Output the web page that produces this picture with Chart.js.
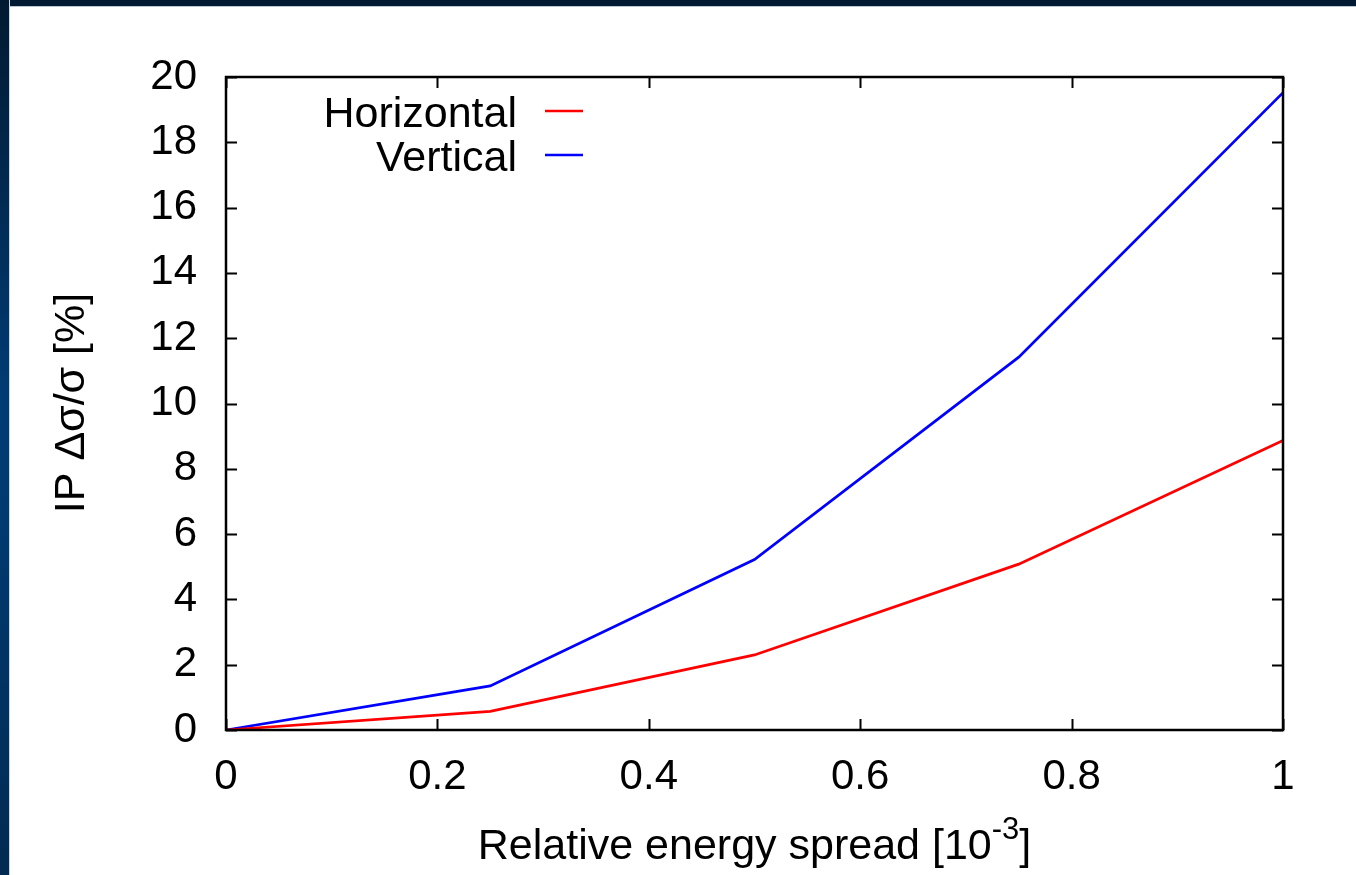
<!DOCTYPE html>
<html>
<head>
<meta charset="utf-8">
<script src="https://cdn.jsdelivr.net/npm/chart.js@4/dist/chart.umd.min.js"></script>
<style>
  html, body { margin: 0; padding: 0; background: #fff; overflow: hidden; }
  .topband { position: absolute; left: 0; top: 0; width: 1356px; height: 6px; background: #021a31; border-bottom: 1px solid #b8c6d6; }
  .leftband { position: absolute; left: 0; top: 0; width: 9px; height: 875px;
    background: linear-gradient(to bottom, #021a31 0%, #02284f 20%, #003c74 45%, #003a70 60%, #022a52 100%);
    border-right: 1px solid #c4d6ea; }
  #wrap { position: absolute; left: 0; top: 0; width: 1356px; height: 875px; }
</style>
</head>
<body>
<div class="topband"></div>
<div class="leftband"></div>
<div id="wrap"><canvas id="myChart" width="1356" height="875"></canvas></div>
<script>
// données
const spread = [0, 0.25, 0.5, 0.75, 1];
const horizontal = [0, 0.57, 2.3, 5.08, 8.87];
const vertical = [0, 1.35, 5.22, 11.42, 19.52];
const xTicks = [0, 0.2, 0.4, 0.6, 0.8, 1];
const yTicks = [0, 2, 4, 6, 8, 10, 12, 14, 16, 18, 20];

const FONT = '"Liberation Sans", Arial, sans-serif';

function pts(ys) {
  return spread.map(function (x, i) { return { x: x, y: ys[i] }; });
}

// cadre + petites graduations vers l'intérieur (style gnuplot)
const boxPlugin = {
  id: 'box',
  afterDatasetsDraw(chart) {
    const ctx = chart.ctx;
    const a = chart.chartArea;
    const xs = chart.scales.x, ys = chart.scales.y;
    const tl = 11;
    ctx.save();
    ctx.strokeStyle = '#000';
    ctx.lineWidth = 2;
    ctx.beginPath();
    xTicks.forEach(function (v) {
      const px = Math.round(xs.getPixelForValue(v)) + 0.5;
      ctx.moveTo(px, a.bottom); ctx.lineTo(px, a.bottom - tl);
      ctx.moveTo(px, a.top); ctx.lineTo(px, a.top + tl);
    });
    yTicks.forEach(function (v) {
      const py = Math.round(ys.getPixelForValue(v)) + 0.5;
      ctx.moveTo(a.left, py); ctx.lineTo(a.left + tl, py);
      ctx.moveTo(a.right, py); ctx.lineTo(a.right - tl, py);
    });
    ctx.stroke();
    ctx.lineWidth = 2.5;
    ctx.strokeRect(a.left, a.top, a.right - a.left, a.bottom - a.top);
    ctx.restore();
  }
};

// légende façon gnuplot : texte aligné à droite puis le trait
const keyPlugin = {
  id: 'key',
  afterDraw(chart) {
    const ctx = chart.ctx;
    ctx.save();
    ctx.font = '43px ' + FONT;
    ctx.fillStyle = '#000';
    ctx.textAlign = 'right';
    ctx.textBaseline = 'alphabetic';
    chart.data.datasets.forEach(function (ds, i) {
      const base = 127 + i * 44;
      ctx.fillText(ds.label, 517, base);
      ctx.strokeStyle = ds.borderColor;
      ctx.lineWidth = 2.5;
      ctx.beginPath();
      ctx.moveTo(545, base - 16);
      ctx.lineTo(583, base - 16);
      ctx.stroke();
    });
    ctx.restore();
  }
};

// titres des axes
const titlePlugin = {
  id: 'titles',
  afterDraw(chart) {
    const ctx = chart.ctx;
    const a = chart.chartArea;
    ctx.save();
    ctx.fillStyle = '#000';
    // axe y
    ctx.save();
    ctx.translate(84, 403);
    ctx.rotate(-Math.PI / 2);
    ctx.font = '43px ' + FONT;
    ctx.textAlign = 'center';
    ctx.textBaseline = 'alphabetic';
    ctx.fillText('IP \u0394\u03c3/\u03c3 [%]', 0, 0);
    ctx.restore();
    // axe x avec exposant
    const main = 'Relative energy spread [10';
    const sup = '-3';
    const end = ']';
    ctx.save();
    ctx.font = '43px ' + FONT;
    const w1 = ctx.measureText(main).width;
    const w3 = ctx.measureText(end).width;
    ctx.font = '31px ' + FONT;
    const w2 = ctx.measureText(sup).width;
    const total = w1 + w2 + w3;
    const cx = (a.left + a.right) / 2;
    ctx.translate(cx - total / 2, 859);
    ctx.textAlign = 'left';
    ctx.font = '43px ' + FONT;
    ctx.fillText(main, 0, 0);
    ctx.font = '31px ' + FONT;
    ctx.fillText(sup, w1, -20);
    ctx.font = '43px ' + FONT;
    ctx.fillText(end, w1 + w2, 0);
    ctx.restore();
    ctx.restore();
  }
};

const myChart = new Chart(document.getElementById('myChart'), {
  type: 'line',
  data: {
    datasets: [
      { label: 'Horizontal', data: pts(horizontal), borderColor: '#ff0000', borderWidth: 2.7, pointRadius: 0, tension: 0, fill: false },
      { label: 'Vertical', data: pts(vertical), borderColor: '#0000ff', borderWidth: 2.7, pointRadius: 0, tension: 0, fill: false }
    ]
  },
  options: {
    responsive: false,
    animation: false,
    events: [],
    layout: { padding: { left: 0, right: 73, top: 77, bottom: 45 } },
    plugins: { legend: { display: false }, tooltip: { enabled: false } },
    scales: {
      x: {
        type: 'linear', min: 0, max: 1,
        afterBuildTicks: function (s) { s.ticks = xTicks.map(function (v) { return { value: v }; }); },
        afterFit: function (s) { s.height = 100; },
        grid: { display: false, drawTicks: false },
        border: { display: false },
        ticks: { color: '#000', font: { family: FONT, size: 42 }, padding: 22, maxRotation: 0,
          callback: function (v) { return String(v); } }
      },
      y: {
        type: 'linear', min: 0, max: 20,
        afterBuildTicks: function (s) { s.ticks = yTicks.map(function (v) { return { value: v }; }); },
        afterFit: function (s) { s.width = 226; },
        grid: { display: false, drawTicks: false },
        border: { display: false },
        ticks: { color: '#000', font: { family: FONT, size: 42 }, padding: 29 }
      }
    }
  },
  plugins: [boxPlugin, keyPlugin, titlePlugin]
});
</script>
</body>
</html>
